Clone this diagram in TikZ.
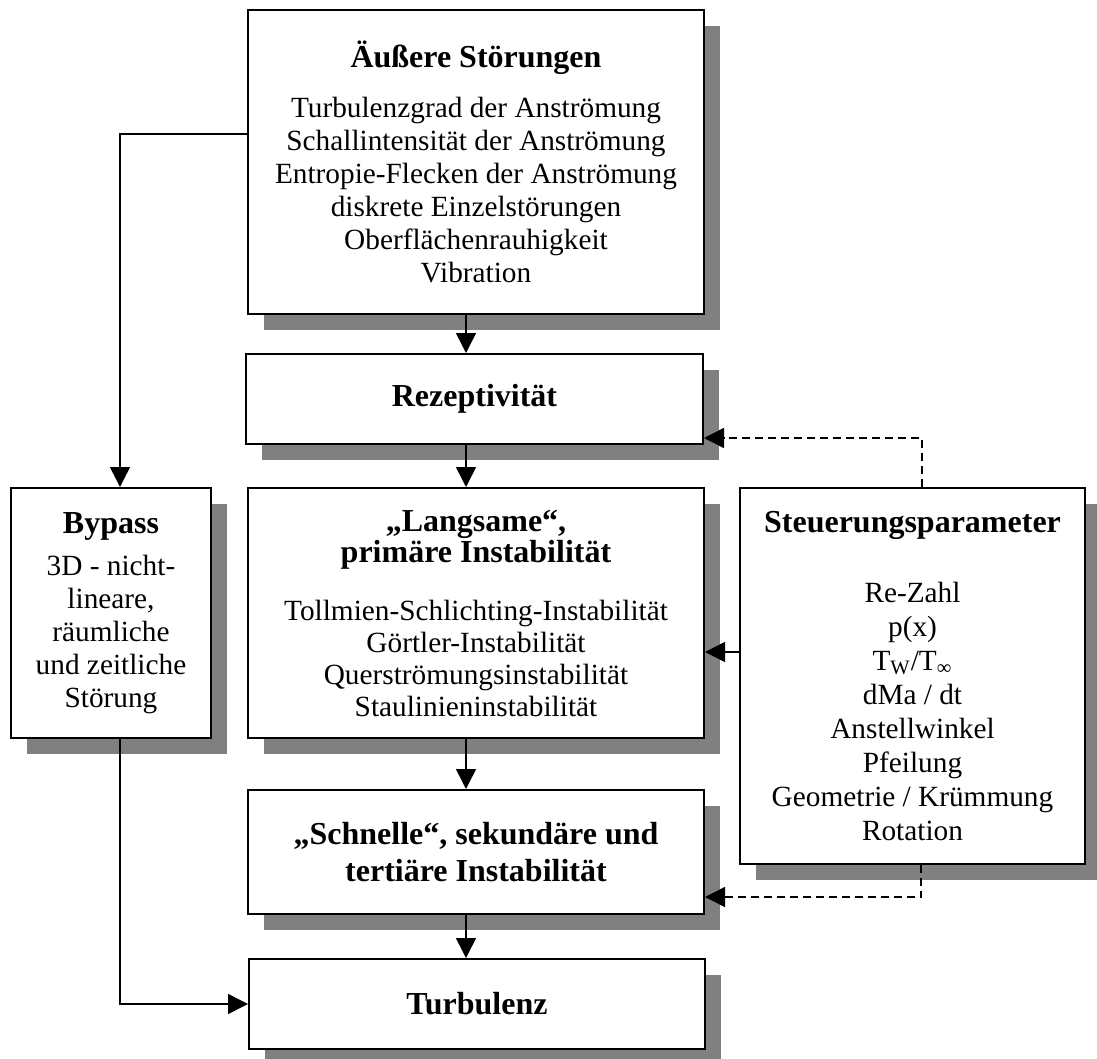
\documentclass[tikz,border=0pt]{standalone}
\usepackage{fontspec}
\setmainfont{Liberation Serif}
\usetikzlibrary{arrows.meta,positioning,shadows}
\definecolor{shade}{HTML}{808080}
\newcommand{\bodyfont}{\fontsize{14.65}{16.5}\selectfont}
\newcommand{\ttlfont}{\bfseries\fontsize{16}{17}\selectfont}
\tikzset{
  blockbox/.style={draw=black,fill=white,line width=1pt,
                   drop shadow={shadow xshift=8pt,shadow yshift=-8pt,fill=shade,opacity=1},
                   anchor=north west,align=center,inner sep=0pt,font=\bodyfont},
  flowarr/.style={-{Triangle[length=10pt,width=10pt]},line width=0.75pt},
  ctrlarr/.style={flowarr,dash pattern=on 4pt off 2.5pt}
}

\begin{document}
\begin{tikzpicture}[x=0.5pt,y=-0.5pt]
  \useasboundingbox (0,0) rectangle (1097,1059);

  % boxes
  \node[blockbox,minimum width=228pt,minimum height=152pt] (stoer) at (247,9)
    {{\ttlfont Äußere Störungen}\\[8.5pt]
     Turbulenzgrad der Anströmung\\ Schallintensität der Anströmung\\
     Entropie-Flecken der Anströmung\\ diskrete Einzelstörungen\\
     Oberflächenrauhigkeit\\ Vibration};
  \node[blockbox,minimum width=228.5pt,minimum height=45pt] (rezep) at (245,353)
    {{\ttlfont Rezeptivität}};
  \node[blockbox,minimum width=100pt,minimum height=125pt] (bypass) at (10,487)
    {{\ttlfont Bypass}\\[4.3pt] 3D - nicht-\\ lineare,\\ räumliche\\ und zeitliche\\ Störung};
  \node[blockbox,minimum width=228pt,minimum height=125pt,
        font=\fontsize{14.65}{15.9}\selectfont] (langsam) at (247,487)
    {{\ttlfont „Langsame“,}\\{\ttlfont primäre Instabilität}\\[13pt]
     Tollmien-Schlichting-Instabilität\\ Görtler-Instabilität\\
     Querströmungsinstabilität\\ Staulinieninstabilität};
  \node[blockbox,minimum width=172.5pt,minimum height=187.75pt,
        font=\fontsize{14.65}{17}\selectfont] (steuer) at (739,487)
    {{\ttlfont Steuerungsparameter}\\[18pt]
     Re-Zahl\\ p(x)\\ T\textsubscript{W}/T\textsubscript{∞}\\ dMa / dt\\
     Anstellwinkel\\ Pfeilung\\ Geometrie / Krümmung\\ Rotation};
  \node[blockbox,minimum width=228pt,minimum height=62pt] (schnell) at (247,789)
    {{\ttlfont „Schnelle“, sekundäre und}\\[1.8pt]{\ttlfont tertiäre Instabilität}};
  \node[blockbox,minimum width=228pt,minimum height=45pt] (turb) at (248,958)
    {{\ttlfont Turbulenz}};

  % connectors
  \coordinate (spine) at (466,0);
  \coordinate (bp) at (120,134);
  \coordinate (ctl) at (0,652);
  \coordinate (dup) at (922,438);
  \coordinate (ddn) at (921,897);

  \draw[flowarr] (stoer.south -| spine) -- (rezep.north -| spine);
  \draw[flowarr] (rezep.south -| spine) -- (langsam.north -| spine);
  \draw[flowarr] (langsam.south -| spine) -- (schnell.north -| spine);
  \draw[flowarr] (schnell.south -| spine) -- (turb.north -| spine);
  \draw[flowarr] (stoer.west |- bp) -| (bypass.north -| bp);
  \draw[flowarr] (bypass.south -| bp) |- (turb.west);
  \draw[flowarr] (steuer.west |- ctl) -- (langsam.east |- ctl);
  \draw[ctrlarr] (steuer.north -| dup) |- (rezep.east |- dup);
  \draw[ctrlarr] (steuer.south -| ddn) |- (schnell.east |- ddn);
\end{tikzpicture}
\end{document}
